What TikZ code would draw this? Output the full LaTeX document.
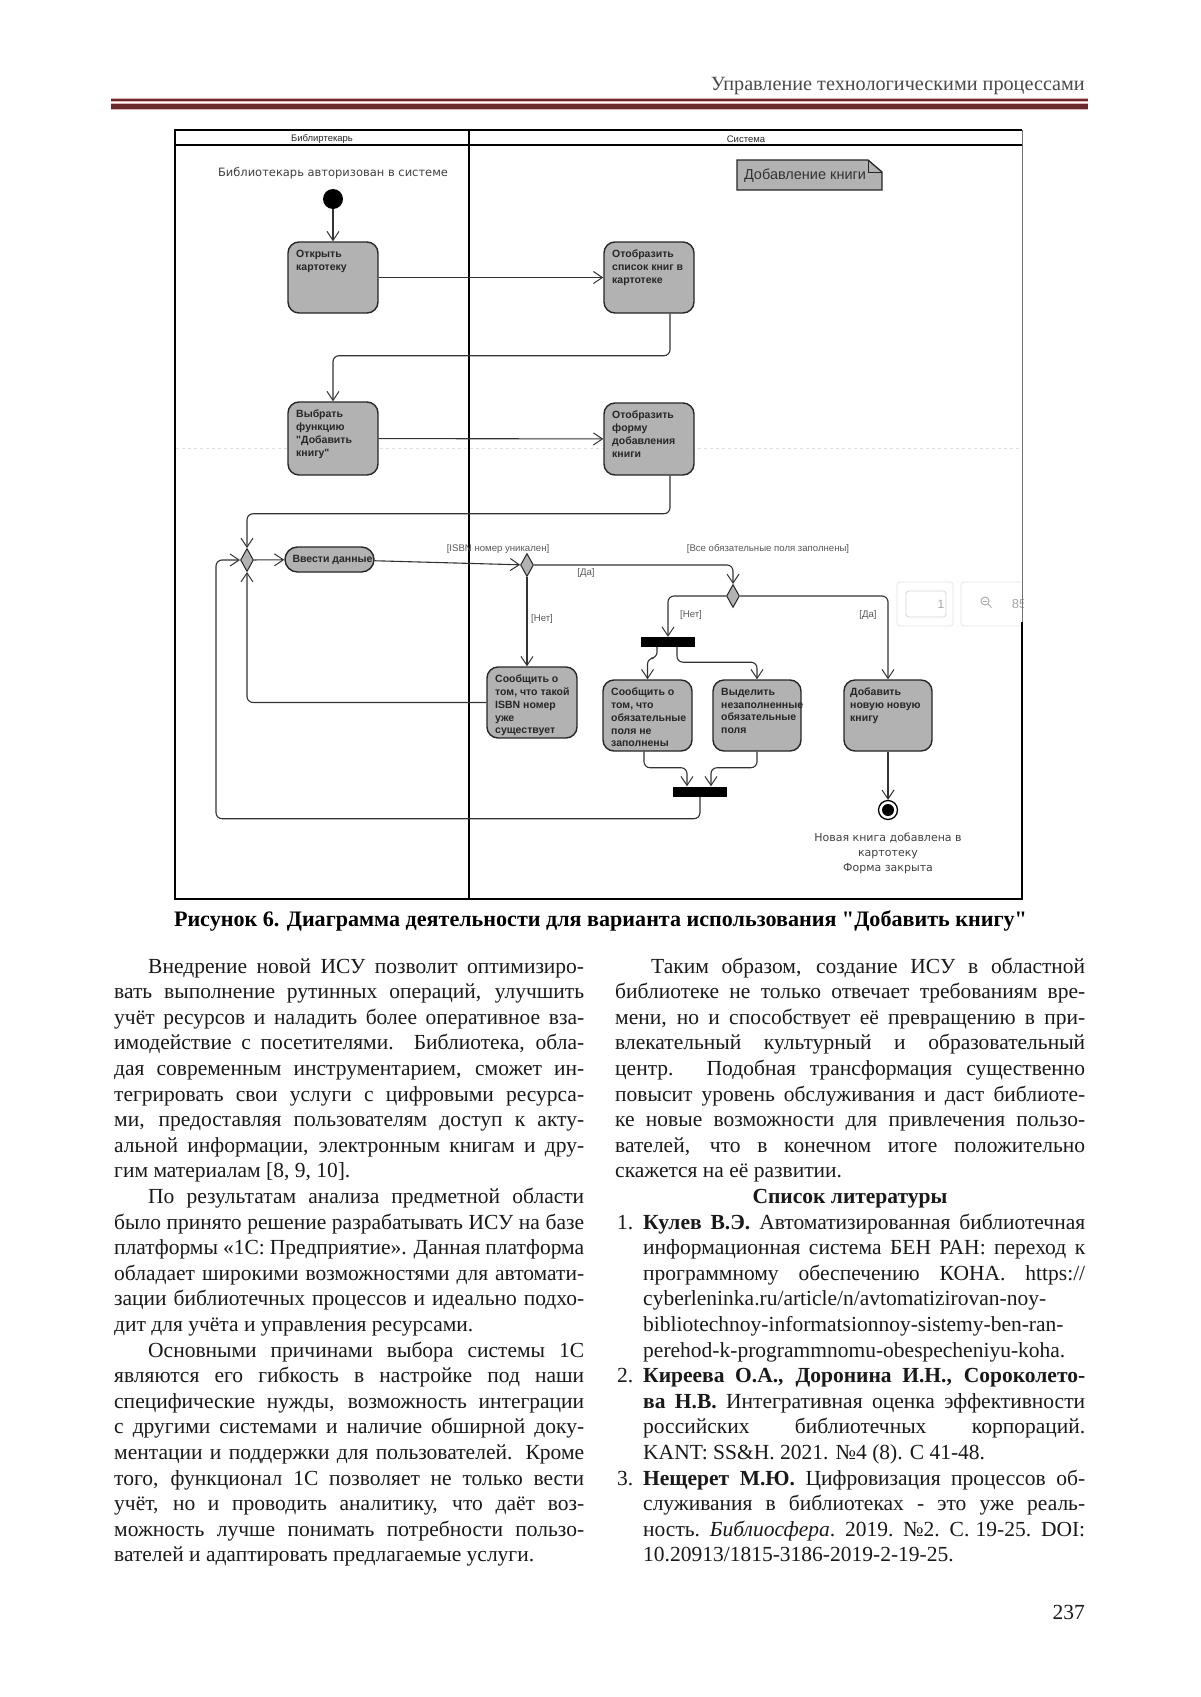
\documentclass[tikz,border=0pt]{standalone}
\usepackage{fontspec}
\setmainfont{Liberation Serif}[Ligatures=TeXOff]
\newfontfamily\dsans{Liberation Sans}[Ligatures=TeXOff]
\newfontfamily\dvsans{DejaVu Sans}
\usetikzlibrary{arrows.meta,shapes.geometric}
\definecolor{maroon}{HTML}{6A2A2C}
\definecolor{pinkl}{HTML}{DDB3B3}
\definecolor{boxgray}{HTML}{B2B2B2}
\definecolor{hdrgray}{HTML}{4A4A4A}
\newcommand\JL[4]{\node[bodytxt] (#1) at (#2) {\makebox[#3pt][s]{#4}};}
\newcommand\LL[3]{\node[bodytxt] (#1) at (#2) {#3};}
\tikzset{
  bodytxt/.style={anchor=base west, inner sep=0pt, font=\fontsize{21.5}{25.6}\selectfont, text=black!90},
  actbox/.style={draw=black!85, line width=1.4pt, fill=boxgray, rounded corners=11pt, inner sep=0pt},
  acttxt/.style={anchor=north west, inner sep=0pt, align=left, font=\dsans\bfseries\fontsize{10.5}{12.7}\selectfont, text=black!85},
  decis/.style={shape=diamond, draw=black!85, fill=boxgray, line width=1pt, minimum width=13pt, minimum height=23pt, inner sep=0pt},
  syncbar/.style={fill=black, minimum width=54pt, minimum height=10pt, inner sep=0pt},
  conn/.style={draw=black!80, line width=1.1pt, rounded corners=6pt, -{Straight Barb[length=9pt,width=12pt,line width=1pt]}},
  guard/.style={font=\dsans\fontsize{9.6}{11}\selectfont, text=black!65, inner sep=0pt},
  lane/.style={font=\dsans\fontsize{9.5}{11}\selectfont, text=black!85, inner sep=0pt},
}
\begin{document}
\begin{tikzpicture}[x=1pt,y=-1pt]
\useasboundingbox (0,0) rectangle (1200,1697);
\fill[white] (0,0) rectangle (1200,1697);
% ---------- page header
\node[anchor=base east, inner sep=0pt, text=hdrgray] (hdr) at (1085,90.5) {\resizebox{374pt}{!}{\fontsize{20}{24}\selectfont Управление технологическими процессами}};
\fill[pinkl] (111,97.5) rectangle (1088,101.5);
\fill[maroon] (111,98.5) rectangle (1088,100.5);
\fill[pinkl] (111,103) rectangle (1088,109.5);
\fill[maroon] (111,104) rectangle (1088,108.5);
% ---------- viewer widget (artefact)
\draw[black!10, line width=0.8pt, rounded corners=3pt] (897,582) rectangle (953,626);
\draw[black!16, line width=0.8pt, rounded corners=3pt] (906,591) rectangle (946,617);
\node[text=black!35, font=\dsans\fontsize{12}{14}\selectfont, inner sep=0pt] (w1) at (941,604) {1};
\draw[black!10, line width=0.8pt, rounded corners=3pt] (1022,582) -- (961,582) -- (961,626) -- (1022,626);
\draw[black!35, line width=0.9pt] (985,601) circle (4);
\draw[black!35, line width=1pt] (988,604) -- (991.5,607.5);
\draw[black!35, line width=0.8pt] (983,601) -- (987,601);
\begin{scope}
\clip (995,585) rectangle (1023,625);
\node[text=black!35, font=\dsans\fontsize{13}{15}\selectfont, inner sep=0pt] (w2) at (1019,604) {85};
\end{scope}
% ---------- frame and swimlanes
\draw[black!12, dashed] (176,448) -- (1021,448);
\draw[line width=1.8pt] (175,130) -- (1022,130);
\draw[line width=1.2pt] (175,145) -- (1022,145);
\draw[line width=2pt] (175,129) -- (175,899) -- (1023,899);
\draw[line width=1pt, black!55] (1022,130) -- (1022,622);
\draw[line width=2pt] (1022,622) -- (1022,900);
\draw[line width=2pt] (469,130) -- (469,899);
\node[lane] (lane1) at (322,139) {Библиртекарь};
\node[lane] (lane2) at (746,139) {Система};
% ---------- note
\fill[boxgray] (737,160) -- (868,160) -- (882,172) -- (882,190) -- (737,190) -- cycle;
\draw[line width=1.3pt, black!85] (737,160) -- (868,160) -- (882,172) -- (882,190) -- (737,190) -- cycle;
\draw[line width=1pt, black!85] (868,160) -- (868,172) -- (882,172);
\node[inner sep=0pt, text=black!80, font=\dsans\fontsize{14.5}{16}\selectfont] (note) at (805,175.5) {Добавление книги};
% ---------- precondition
\node[inner sep=0pt, text=black!75] (pre) at (333,173) {\resizebox{230pt}{!}{\dvsans\fontsize{11}{13}\selectfont Библиотекарь авторизован в системе}};
% ---------- nodes
\node[circle, fill=black, minimum size=20pt, inner sep=0pt] (init) at (333,199) {};
\node[actbox, minimum width=90pt, minimum height=71pt] (A) at (333,277.5) {};
\node[acttxt] (At) at (296,250) {Открыть\\картотеку};
\node[actbox, minimum width=90pt, minimum height=71pt] (B) at (649,277.5) {};
\node[acttxt] (Bt) at (612,250) {Отобразить\\список книг в\\картотеке};
\node[actbox, minimum width=90pt, minimum height=73pt] (C) at (333,438.5) {};
\node[acttxt] (Ct) at (296,410) {Выбрать\\функцию\\"Добавить\\книгу"};
\node[actbox, minimum width=90pt, minimum height=72pt] (D) at (649,439) {};
\node[acttxt] (Dt) at (612,411) {Отобразить\\форму\\добавления\\книги};
\node[actbox, rounded corners=12.5pt, minimum width=89pt, minimum height=25pt] (E) at (329.5,559.5) {};
\node[inner sep=0pt, font=\dsans\bfseries\fontsize{10.5}{12.7}\selectfont, text=black!85] (Et) at (332.5,560) {Ввести данные};
\node[decis] (M) at (247,560) {};
\node[decis] (I) at (527,565) {};
\node[decis] (J) at (733,596) {};
\node[actbox, minimum width=90pt, minimum height=71pt] (F) at (532,702.5) {};
\node[acttxt] (Ft) at (495,675) {Сообщить о\\том, что такой\\ISBN номер\\уже\\существует};
\node[syncbar] (K) at (668,642) {};
\node[actbox, minimum width=89pt, minimum height=71pt] (G1) at (647.5,715.5) {};
\node[acttxt] (G1t) at (611,688) {Сообщить о\\том, что\\обязательные\\поля не\\заполнены};
\node[actbox, minimum width=88pt, minimum height=71pt] (G2) at (757,715.5) {};
\node[acttxt] (G2t) at (721,688) {Выделить\\незаполненные\\обязательные\\поля};
\node[actbox, minimum width=88pt, minimum height=71pt] (H) at (888,715.5) {};
\node[acttxt] (Ht) at (850,688) {Добавить\\новую новую\\книгу};
\node[syncbar] (L) at (700,791.5) {};
\node[circle, draw=black, line width=1.3pt, fill=white, minimum size=19pt, inner sep=0pt] (fin) at (888,810) {};
\node[circle, fill=black, minimum size=12pt, inner sep=0pt] (finc) at (888,810) {};
\node[align=center, inner sep=0pt, font=\dvsans\fontsize{11}{15}\selectfont, text=black!75] (post) at (888,853) {Новая книга добавлена в\\картотеку\\Форма закрыта};
% ---------- guards
\node[guard] (g1) at (498,549) {[ISBN номер уникален]};
\node[guard] (g2) at (768,549) {[Все обязательные поля заполнены]};
\node[guard] (g3) at (586,573) {[Да]};
\node[guard] (g4) at (542,619) {[Нет]};
\node[guard] (g5) at (691,615) {[Нет]};
\node[guard] (g6) at (868,615) {[Да]};
% ---------- connectors
\draw[conn] (init) -- (A);
\draw[conn] (A) -- (B);
\draw[conn] ([xshift=21pt]B.south) -- ++(0,42) -| (C.north);
\draw[conn] (C) -- (D);
\draw[conn] ([xshift=21pt]D.south) -- ++(0,38) -| (M.north);
\draw[conn] (M) -- (E);
\draw[conn] (E) -- (I);
\draw[conn] (I.south) -- (I.south |- F.north);
\draw[conn] (F.west) -| (M.south);
\draw[conn] (I.east) -| (J.north);
\draw[conn] (J.west) -| (K.north);
\draw[conn] (J.east) -| (H.north);
\draw[conn] ([xshift=-11pt]K.south) -- ++(0,11) -| (G1.north);
\draw[conn] ([xshift=9pt]K.south) -- ++(0,15) -| (G2.north);
\draw[conn] ([xshift=-3.5pt]G1.south) -- ++(0,16) -| ([xshift=-13pt]L.north);
\draw[conn] (G2.south) -- ++(0,16) -| ([xshift=11pt]L.north);
\draw[conn] (L.south) -- ++(0,22) -| ([xshift=-24pt]M.west) -- (M.west);
\draw[conn] (H) -- (fin);
% ---------- caption
\node[anchor=base, inner sep=0pt] (cap) at (600.5,926) {\resizebox{853pt}{!}{\bfseries\fontsize{20}{24}\selectfont Рисунок 6. Диаграмма деятельности для варианта использования "Добавить книгу"}};
% ---------- left column
\JL{l0}{148,973.0}{436}{Внедрение новой ИСУ позволит оптимизиро-}
\JL{l1}{114,998.6}{470}{вать выполнение рутинных операций, улучшить}
\JL{l2}{114,1024.2}{470}{учёт ресурсов и наладить более оперативное вза-}
\JL{l3}{114,1049.8}{470}{имодействие с посетителями. Библиотека, обла-}
\JL{l4}{114,1075.4}{470}{дая современным инструментарием, сможет ин-}
\JL{l5}{114,1101.0}{470}{тегрировать свои услуги с цифровыми ресурса-}
\JL{l6}{114,1126.6}{470}{ми, предоставляя пользователям доступ к акту-}
\JL{l7}{114,1152.2}{470}{альной информации, электронным книгам и дру-}
\LL{l8}{114,1177.8}{гим материалам [8, 9, 10].}
\JL{l9}{148,1203.4}{436}{По результатам анализа предметной области}
\JL{l10}{114,1229.0}{470}{было принято решение разрабатывать ИСУ на базе}
\JL{l11}{114,1254.6}{470}{платформы «1С: Предприятие». Данная платформа}
\JL{l12}{114,1280.2}{470}{обладает широкими возможностями для автомати-}
\JL{l13}{114,1305.8}{470}{зации библиотечных процессов и идеально подхо-}
\LL{l14}{114,1331.4}{дит для учёта и управления ресурсами.}
\JL{l15}{148,1357.0}{436}{Основными причинами выбора системы 1С}
\JL{l16}{114,1382.6}{470}{являются его гибкость в настройке под наши}
\JL{l17}{114,1408.2}{470}{специфические нужды, возможность интеграции}
\JL{l18}{114,1433.8}{470}{с другими системами и наличие обширной доку-}
\JL{l19}{114,1459.4}{470}{ментации и поддержки для пользователей. Кроме}
\JL{l20}{114,1485.0}{470}{того, функционал 1С позволяет не только вести}
\JL{l21}{114,1510.6}{470}{учёт, но и проводить аналитику, что даёт воз-}
\JL{l22}{114,1536.2}{470}{можность лучше понимать потребности пользо-}
\LL{l23}{114,1561.8}{вателей и адаптировать предлагаемые услуги.}
% ---------- right column
\JL{r0}{651,973.0}{434}{Таким образом, создание ИСУ в областной}
\JL{r1}{615,998.6}{470}{библиотеке не только отвечает требованиям вре-}
\JL{r2}{615,1024.2}{470}{мени, но и способствует её превращению в при-}
\JL{r3}{615,1049.8}{470}{влекательный культурный и образовательный}
\JL{r4}{615,1075.4}{470}{центр. Подобная трансформация существенно}
\JL{r5}{615,1101.0}{470}{повысит уровень обслуживания и даст библиоте-}
\JL{r6}{615,1126.6}{470}{ке новые возможности для привлечения пользо-}
\JL{r7}{615,1152.2}{470}{вателей, что в конечном итоге положительно}
\LL{r8}{615,1177.8}{скажется на её развитии.}
\node[bodytxt, anchor=base, font=\bfseries\fontsize{21.5}{25.6}\selectfont] (r9) at (850,1203.4) {Список литературы};
\LL{n1}{617,1229.0}{1.}
\JL{r10}{643,1229.0}{442}{\textbf{Кулев В.Э.} Автоматизированная библиотечная}
\JL{r11}{643,1254.6}{442}{информационная система БЕН РАН: переход к}
\JL{r12}{643,1280.2}{442}{программному обеспечению КОНА. https://}
\LL{r13}{643,1305.8}{cyberleninka.ru/article/n/avtomatizirovan-noy-}
\LL{r14}{643,1331.4}{bibliotechnoy-informatsionnoy-sistemy-ben-ran-}
\LL{r15}{643,1357.0}{perehod-k-programmnomu-obespecheniyu-koha.}
\LL{n2}{617,1382.6}{2.}
\JL{r16}{643,1382.6}{442}{\textbf{Киреева О.А., Доронина И.Н., Сороколето-}}
\JL{r17}{643,1408.2}{442}{\textbf{ва Н.В.} Интегративная оценка эффективности}
\JL{r18}{643,1433.8}{442}{российских библиотечных корпораций.}
\LL{r19}{643,1459.4}{KANT: SS\&H. 2021. №4 (8). С 41-48.}
\LL{n3}{617,1485.0}{3.}
\JL{r20}{643,1485.0}{442}{\textbf{Нещерет М.Ю.} Цифровизация процессов об-}
\JL{r21}{643,1510.6}{442}{служивания в библиотеках - это уже реаль-}
\JL{r22}{643,1536.2}{442}{ность. \textit{Библиосфера}. 2019. №2. С. 19-25. DOI:}
\LL{r23}{643,1561.8}{10.20913/1815-3186-2019-2-19-25.}
% ---------- page number
\node[bodytxt, anchor=base east] (pg) at (1085,1619) {237};
\end{tikzpicture}
\end{document}
